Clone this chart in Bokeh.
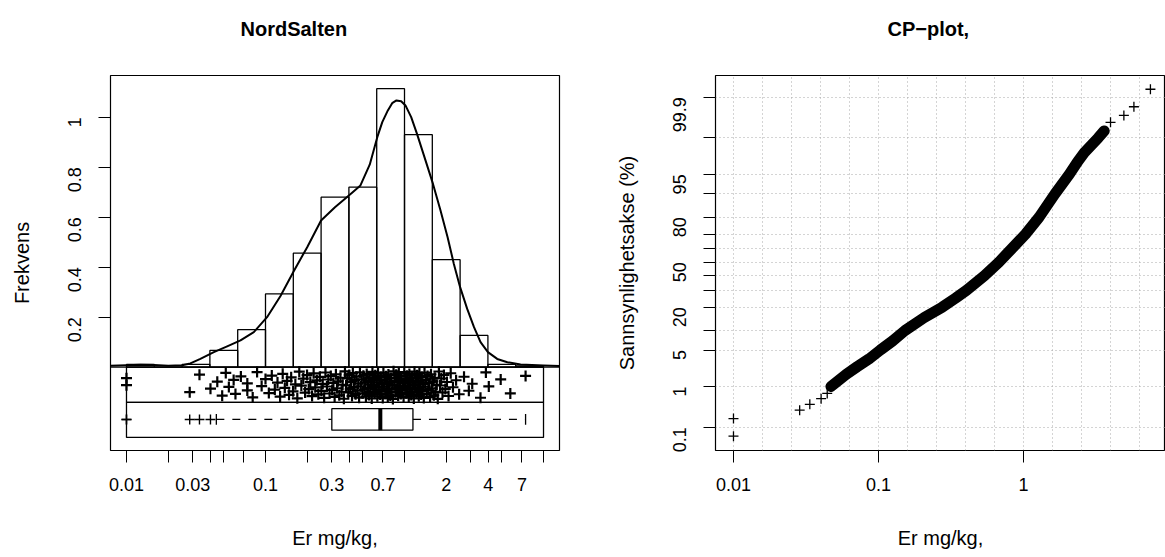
import math
from statistics import NormalDist

from bokeh.plotting import figure
from bokeh.layouts import row
from bokeh.models import FixedTicker, Span, Range1d, Title, CustomJSTickFormatter
from bokeh.embed import file_html
from bokeh.resources import INLINE

FONT = "Liberation Sans"

# ---------------- data ----------------
# histogram of log10(Er) -- bin edges (mg/kg) and density per log10 unit
hist_breaks = [0.01, 0.01585, 0.02512, 0.03981, 0.0631, 0.1, 0.1585, 0.2512,
               0.3981, 0.631, 1.0, 1.585, 2.512, 3.981, 6.31, 10.0]
hist_density = [0.011, 0.0, 0.011, 0.067, 0.150, 0.293, 0.456, 0.680,
                0.720, 1.114, 0.930, 0.430, 0.127, 0.011, 0.0055]

# density curve (mg/kg, density)
dens_x = [0.00767, 0.0100, 0.0126, 0.0158, 0.0200, 0.0251, 0.0288, 0.0340,
          0.0425, 0.0530, 0.0661, 0.0824, 0.1026, 0.1282, 0.160, 0.1995,
          0.251, 0.316, 0.398, 0.482, 0.562, 0.637, 0.692, 0.759, 0.815,
          0.875, 0.946, 1.016, 1.117, 1.230, 1.416, 1.603, 1.816, 2.042,
          2.265, 2.512, 2.825, 3.162, 3.524, 3.981, 4.645, 5.495, 6.839,
          10.0, 13.03]
dens_y = [0.006, 0.008, 0.010, 0.009, 0.006, 0.008, 0.015, 0.033, 0.060,
          0.083, 0.107, 0.140, 0.200, 0.285, 0.385, 0.480, 0.587, 0.640,
          0.687, 0.727, 0.810, 0.920, 0.980, 1.027, 1.056, 1.067, 1.064,
          1.047, 1.000, 0.933, 0.827, 0.733, 0.627, 0.520, 0.413, 0.320,
          0.233, 0.160, 0.100, 0.060, 0.033, 0.020, 0.011, 0.007, 0.005]

# Er values (mg/kg) shown in the strip chart
er_values = [0.010, 0.010, 0.0285, 0.0335, 0.0402, 0.0450, 0.0488, 0.0545,
             0.0608, 0.0740,
             0.0518, 0.0665, 0.0809, 0.0938, 0.1057, 0.1167, 0.1274, 0.1377,
             0.1477, 0.1578, 0.1694, 0.1811, 0.1928, 0.2046, 0.2163, 0.2280,
             0.2399, 0.2523, 0.2642, 0.2767, 0.2891, 0.3017, 0.3143, 0.3268,
             0.3396, 0.3528, 0.3662, 0.3800, 0.3939, 0.4068, 0.4191, 0.4318,
             0.4449, 0.4579, 0.4713, 0.4851, 0.4988, 0.5133, 0.5278, 0.5420,
             0.5546, 0.5680, 0.5813, 0.5954, 0.6093, 0.6234, 0.6380, 0.6528,
             0.6683, 0.6831, 0.6977, 0.7124, 0.7273, 0.7426, 0.7581, 0.7745,
             0.7907, 0.8081, 0.8250, 0.8431, 0.8611, 0.8808, 0.8999, 0.9203,
             0.9410, 0.9625, 0.9849, 1.008, 1.030, 1.051, 1.073, 1.095, 1.118,
             1.142, 1.167, 1.193, 1.220, 1.243, 1.267, 1.292, 1.318, 1.347,
             1.377, 1.409, 1.446, 1.485, 1.528, 1.574, 1.626, 1.677, 1.735,
             1.801, 1.877, 1.966, 2.074, 2.232, 2.472, 2.903,
             0.059, 0.074, 0.087, 0.100, 0.111, 0.122, 0.133, 0.143, 0.153,
             0.164, 0.175, 0.187, 0.199, 0.210, 0.222, 0.234, 0.246, 0.258,
             0.270, 0.283, 0.295, 0.308, 0.321, 0.333, 0.346, 0.359, 0.373,
             0.387, 0.400, 0.413, 0.425, 0.438, 0.451, 0.465, 0.478, 0.492,
             0.506, 0.520, 0.535, 0.548, 0.561, 0.575, 0.588, 0.602, 0.616,
             0.631, 0.645, 0.660, 0.676, 0.690, 0.705, 0.720, 0.735, 0.750,
             0.766, 0.783, 0.799, 0.817, 0.834, 0.852, 0.871, 0.890, 0.910,
             0.931, 0.952, 0.974, 0.996, 1.019, 1.040, 1.062, 1.084, 1.106,
             1.130, 1.155, 1.180, 1.206, 1.231, 1.255, 1.280, 1.305, 1.332,
             1.362, 1.393, 1.427, 1.465, 1.506, 1.551, 1.600, 1.651, 1.706,
             1.768, 1.839, 1.921, 2.020, 2.150, 2.350, 2.680,
             3.07, 3.52, 3.85, 4.04, 4.92, 5.77, 7.43]

# boxplot statistics (mg/kg)
box_q1 = 0.30
box_median = 0.67
box_q3 = 1.15
whisker_lo = 0.0443
whisker_hi = 7.43
box_outliers = [0.010, 0.010, 0.0285, 0.0335, 0.0402]

# CP plot: cumulative probability (%) and Er (mg/kg)
cp_percent = [0.056, 0.17, 0.28, 0.39, 0.53, 0.7, 1.0, 1.8, 2.5, 3.5, 5.0,
              7.0, 10.0, 15.0, 20.0, 25.0, 30.0, 40.0, 50.0, 60.0, 70.0,
              80.0, 90.0, 95.0, 97.0, 98.0, 99.0, 99.3, 99.56, 99.7, 99.82,
              99.94]
cp_er = [0.010, 0.010, 0.0286, 0.0336, 0.0402, 0.0443, 0.047, 0.060, 0.071,
         0.086, 0.103, 0.125, 0.152, 0.207, 0.275, 0.339, 0.405, 0.537,
         0.676, 0.83, 1.03, 1.28, 1.65, 2.07, 2.36, 2.63, 3.27, 3.6, 3.98,
         4.92, 5.77, 7.5]

# tick definitions
hist_ticks = [0.01, 0.02, 0.03, 0.04, 0.05, 0.07, 0.1, 0.2, 0.3, 0.4, 0.5,
              0.7, 1, 2, 3, 4, 5, 7, 10]
hist_tick_labels = [0.01, 0.03, 0.1, 0.3, 0.7, 2, 4, 7]
freq_ticks = [0.2, 0.4, 0.6, 0.8, 1.0]
cp_x_ticks = [0.01, 0.1, 1]
cp_prob_ticks = [0.1, 1, 5, 10, 20, 30, 40, 50, 60, 70, 80, 90, 95, 99, 99.9]
cp_prob_labels = {0.1: "0.1", 1: "1", 5: "5", 20: "20", 50: "50", 80: "80",
                  95: "95", 99.9: "99.9"}
cp_grid_x = [0.01, 0.01585, 0.02512, 0.03981, 0.0631, 0.1, 0.1585, 0.2512,
             0.3981, 0.631, 1.0, 1.585, 2.512, 3.981, 6.31]

# ---------------- helpers ----------------
ND = NormalDist()


def z_of(pct):
    return ND.inv_cdf(pct / 100.0)


def vdc(n, base=2):
    """radical-inverse sequence used for an even vertical jitter"""
    v, denom = 0.0, 1.0
    while n:
        n, rem = divmod(n, base)
        denom *= base
        v += rem / denom
    return v


def style_axes(p, tick_size="18px", label_size="20px"):
    for ax in (p.xaxis[0], p.yaxis[0]):
        ax.axis_line_color = None
        ax.major_tick_line_color = "black"
        ax.major_tick_line_width = 1
        ax.major_tick_out = 12
        ax.major_tick_in = 0
        ax.minor_tick_line_color = None
        ax.major_label_text_font = FONT
        ax.major_label_text_font_size = tick_size
        ax.major_label_text_color = "black"
        ax.axis_label_text_font = FONT
        ax.axis_label_text_font_size = label_size
        ax.axis_label_text_font_style = "normal"
        ax.axis_label_text_color = "black"
    p.xaxis.major_label_standoff = 15
    p.xaxis.axis_label_standoff = 33
    p.yaxis.major_label_standoff = 24
    p.yaxis.axis_label_standoff = 26
    p.yaxis.major_label_orientation = math.pi / 2
    p.outline_line_color = "black"
    p.outline_line_width = 1.2
    p.background_fill_color = "white"
    p.border_fill_color = "white"


def make_title(text, offset):
    # second (blank) line lifts the visible line further above the frame
    return Title(text=text + "\n ", align="left", offset=offset, standoff=27,
                 text_font=FONT, text_font_size="20px",
                 text_font_style="bold", text_color="black")


# ---------------- left panel: histogram / strip / boxplot ----------------
p1 = figure(width=569, height=557, x_axis_type="log",
            x_range=Range1d(10 ** -2.115, 10 ** 1.115),
            y_range=Range1d(-0.3333, 1.1667),
            output_backend="svg", toolbar_location=None,
            min_border_left=110, min_border_right=10,
            min_border_top=75, min_border_bottom=107)
p1.title = make_title("NordSalten", 130)
p1.grid.grid_line_color = None
style_axes(p1)
p1.xaxis.axis_label = "Er mg/kg,"
p1.yaxis.axis_label = "Frekvens"
p1.xaxis.ticker = FixedTicker(ticks=hist_ticks)
p1.xaxis.formatter = CustomJSTickFormatter(
    args=dict(show=hist_tick_labels),
    code="""
    for (const s of show) {
        if (Math.abs(Math.log10(tick / s)) < 1e-6) return String(s);
    }
    return "";
    """)
p1.yaxis.ticker = FixedTicker(ticks=freq_ticks)
p1.yaxis.formatter = CustomJSTickFormatter(
    code="return tick.toFixed(1).replace(/\\.0$/, '');")

LW = 1.3
# histogram bars
p1.quad(left=hist_breaks[:-1], right=hist_breaks[1:], bottom=0,
        top=hist_density, fill_color=None, line_color="black", line_width=LW)
# zero line
p1.add_layout(Span(location=0, dimension="width", line_color="black",
                   line_width=LW))
# density curve
p1.line(dens_x, dens_y, line_color="black", line_width=2, line_join="round")

# frames of strip and boxplot areas
strip_top, strip_mid, strip_bot = 0.0, -0.141, -0.281
p1.quad(left=[hist_breaks[0], hist_breaks[0]], right=[hist_breaks[-1], hist_breaks[-1]],
        top=[strip_top, strip_mid], bottom=[strip_mid, strip_bot],
        fill_color=None, line_color="black", line_width=LW)

# jittered strip chart (vertical jitter only, deterministic)
strip_x = sorted(er_values)
strip_y = [-0.016 - 0.112 * vdc(i + 1) for i in range(len(strip_x))]
p1.scatter(strip_x, strip_y, marker="cross", size=11, line_color="black",
           line_width=2.2)

# boxplot
bc = -0.209
bh = 0.043
p1.quad(left=[box_q1], right=[box_q3], top=[bc + bh], bottom=[bc - bh],
        fill_color=None, line_color="black", line_width=LW)
p1.segment(x0=[box_median], x1=[box_median], y0=[bc - bh], y1=[bc + bh],
           line_color="black", line_width=4)
p1.segment(x0=[whisker_lo, box_q3], x1=[box_q1, whisker_hi], y0=[bc, bc],
           y1=[bc, bc], line_color="black", line_width=LW, line_dash="8 8")
p1.segment(x0=[whisker_lo, whisker_hi], x1=[whisker_lo, whisker_hi],
           y0=[bc - bh / 2, bc - bh / 2], y1=[bc + bh / 2, bc + bh / 2],
           line_color="black", line_width=LW)
p1.scatter(box_outliers, [bc] * len(box_outliers), marker="cross", size=10,
           line_color="black", line_width=1.4)

# ---------------- right panel: CP plot ----------------
p2 = figure(width=596, height=557, x_axis_type="log",
            x_range=Range1d(10 ** -2.124, 10 ** 0.979),
            y_range=Range1d(-3.526, 3.496),
            output_backend="svg", toolbar_location=None,
            min_border_left=146, min_border_right=0,
            min_border_top=75, min_border_bottom=107)
p2.title = make_title("CP\u2212plot,", 172)
style_axes(p2)
p2.xaxis.axis_label = "Er mg/kg,"
p2.yaxis.axis_label = "Sannsynlighetsakse (%)"
p2.xaxis.ticker = FixedTicker(ticks=cp_x_ticks)
p2.xaxis.formatter = CustomJSTickFormatter(
    code="""
    const show = [0.01, 0.1, 1];
    for (const s of show) {
        if (Math.abs(Math.log10(tick / s)) < 1e-6) return String(s);
    }
    return "";
    """)
zt = [round(z_of(pc), 3) for pc in cp_prob_ticks]
zlabels = {f"{round(z_of(k), 3):.3f}": v for k, v in cp_prob_labels.items()}
p2.yaxis.ticker = FixedTicker(ticks=zt)
p2.yaxis.formatter = CustomJSTickFormatter(
    args=dict(labs=zlabels),
    code="""
    const k = tick.toFixed(3);
    return (k in labs) ? labs[k] : "";
    """)
p2.xgrid.ticker = FixedTicker(ticks=cp_grid_x)
p2.ygrid.ticker = FixedTicker(ticks=zt)
p2.grid.grid_line_color = "#a8a8a8"
p2.grid.grid_line_dash = "1 3"
p2.grid.grid_line_width = 1

cp_z = [z_of(pc) for pc in cp_percent]
band = [i for i, pc in enumerate(cp_percent) if 1.0 <= pc <= 99.3]
p2.line([cp_er[i] for i in band], [cp_z[i] for i in band], line_color="black",
        line_width=11, line_join="round", line_cap="round")
p2.scatter(cp_er, cp_z, marker="cross", size=10, line_color="black",
           line_width=1.3)

layout = row(p1, p2)
open("out.html", "w").write(file_html(layout, INLINE))
